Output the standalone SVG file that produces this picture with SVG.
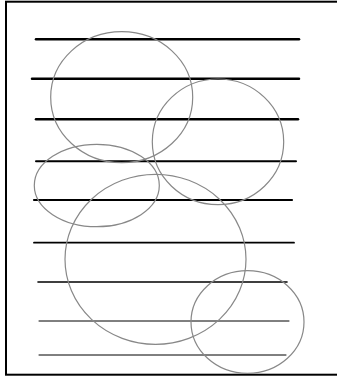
<svg xmlns="http://www.w3.org/2000/svg" width="337" height="377" viewBox="0 0 337 377">
<style>
.ln{stroke:#000;stroke-linecap:round;fill:none}
.el{fill:none;stroke:#888;stroke-width:1.2}
</style>
<rect x="0" y="0" width="337" height="377" fill="#fff"/>
<rect x="6" y="1.7" width="340" height="373" fill="none" stroke="#000" stroke-width="2"/>
<g id="lines">
<line class="ln" x1="36" y1="39.3" x2="299" y2="39.3" stroke-width="2.5"/>
<line class="ln" x1="32" y1="78.7" x2="299" y2="78.7" stroke-width="2.5"/>
<line class="ln" x1="36" y1="119.3" x2="298" y2="119.3" stroke-width="2.5"/>
<line class="ln" x1="36" y1="161.3" x2="296" y2="161.3" stroke-width="2"/>
<line class="ln" x1="34" y1="200" x2="292" y2="200" stroke-width="2.2"/>
<line class="ln" x1="34" y1="242.7" x2="294" y2="242.7" stroke-width="1.8"/>
<line class="ln" x1="38" y1="282" x2="287" y2="282" stroke-width="1.6"/>
<line class="ln" x1="39" y1="321" x2="289" y2="321" stroke-width="1"/>
<line class="ln" x1="39" y1="355" x2="286" y2="355" stroke-width="1"/>
</g>
<g id="ellipses">
<ellipse class="el" cx="121.7" cy="97.2" rx="71" ry="65.5"/>
<ellipse class="el" cx="218" cy="141.8" rx="65.7" ry="62.8"/>
<ellipse class="el" cx="96.8" cy="185.5" rx="62.5" ry="41.2"/>
<ellipse class="el" cx="155.5" cy="259.3" rx="90.5" ry="85"/>
<ellipse class="el" cx="247.5" cy="322" rx="56.5" ry="51.3"/>
</g>
</svg>
